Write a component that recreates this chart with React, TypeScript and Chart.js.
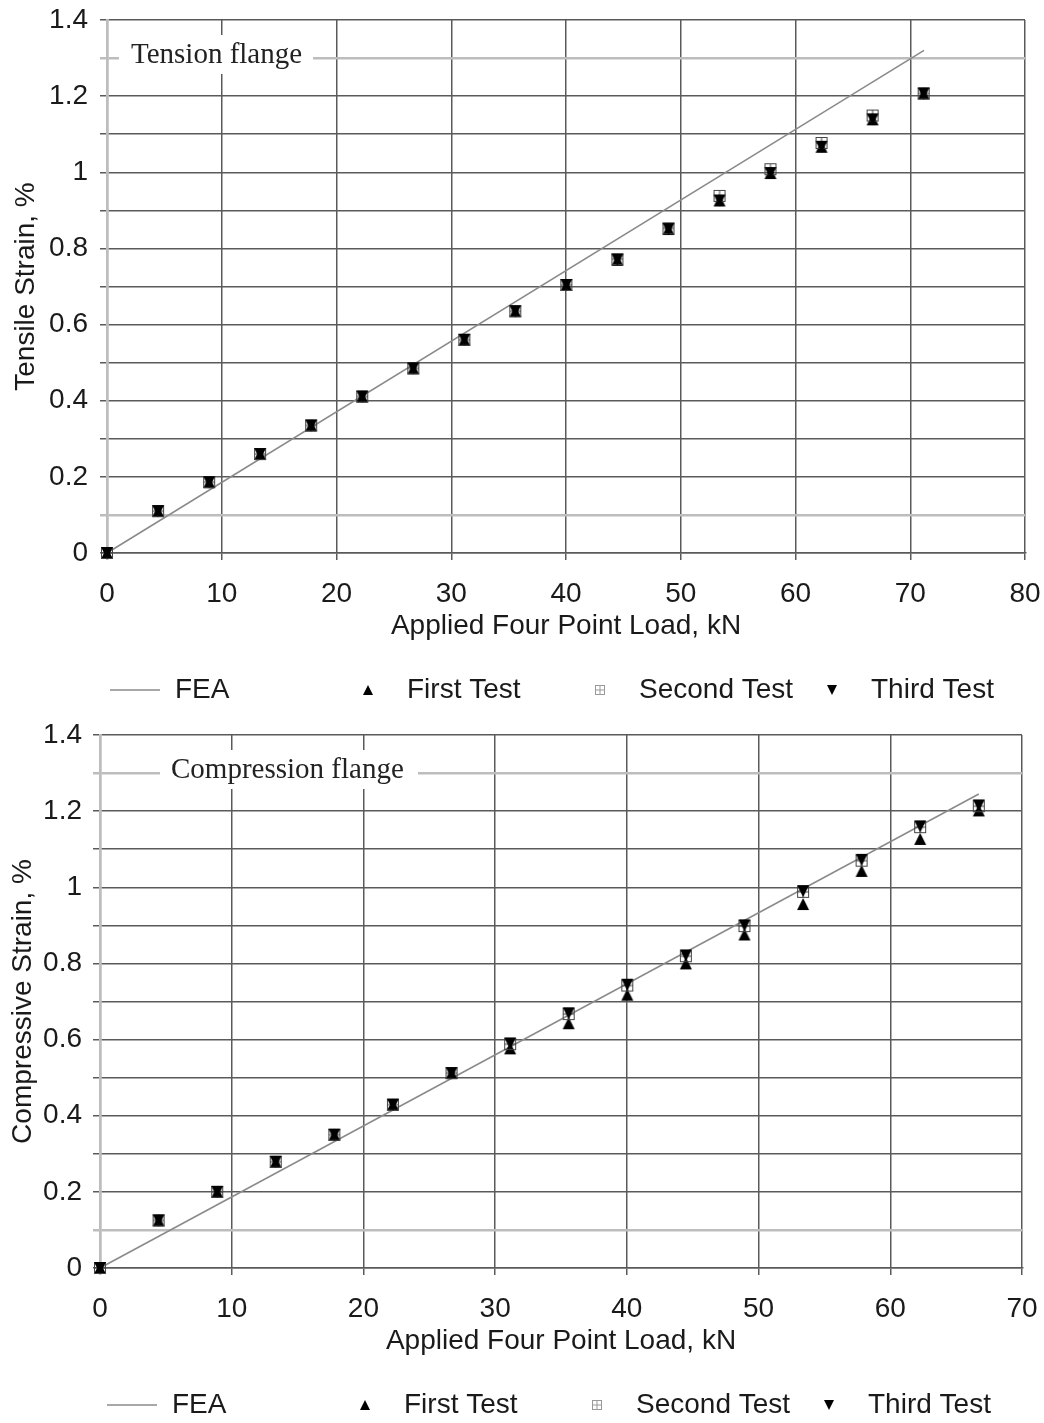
import React, { useEffect, useRef } from 'react';
import { Chart, registerables } from 'chart.js';

Chart.register(...registerables);

// ---------------- DATA ----------------
// Applied four point load, kN (1 kip steps)
const tensionLoadKN = [0, 4.45, 8.9, 13.34, 17.79, 22.24, 26.69, 31.14, 35.58, 40.03, 44.48, 48.93, 53.38, 57.82, 62.27, 66.72, 71.17];
const tensionFirstTest = [0, 0.11, 0.186, 0.26, 0.335, 0.411, 0.485, 0.56, 0.635, 0.704, 0.77, 0.851, 0.926, 0.998, 1.067, 1.139, 1.207];
const tensionSecondTest = [0, 0.11, 0.186, 0.26, 0.335, 0.411, 0.485, 0.56, 0.635, 0.704, 0.772, 0.853, 0.938, 1.008, 1.077, 1.149, 1.207];
const tensionThirdTest = [0, 0.11, 0.186, 0.26, 0.335, 0.411, 0.485, 0.56, 0.635, 0.704, 0.77, 0.851, 0.926, 0.998, 1.067, 1.139, 1.207];
const tensionFeaLoadKN = [0, 71.2];
const tensionFeaStrain = [0, 1.32];

const compressionLoadKN = [0, 4.45, 8.9, 13.34, 17.79, 22.24, 26.69, 31.14, 35.58, 40.03, 44.48, 48.93, 53.38, 57.82, 62.27, 66.72];
const compressionFirstTest = [0, 0.125, 0.2, 0.279, 0.35, 0.429, 0.512, 0.577, 0.643, 0.718, 0.8, 0.876, 0.956, 1.043, 1.127, 1.202];
const compressionSecondTest = [0, 0.125, 0.2, 0.279, 0.35, 0.429, 0.512, 0.588, 0.667, 0.742, 0.819, 0.898, 0.988, 1.07, 1.158, 1.213];
const compressionThirdTest = [0, 0.125, 0.2, 0.279, 0.35, 0.429, 0.512, 0.59, 0.669, 0.744, 0.821, 0.9, 0.99, 1.072, 1.16, 1.215];
const compressionFeaLoadKN = [0, 66.72];
const compressionFeaStrain = [0, 1.245];

const seriesNames = ['FEA', 'First Test', 'Second Test', 'Third Test'];
const xAxisTitle = 'Applied Four Point Load, kN';

// ---------------- STYLE ----------------
const SANS = '"Liberation Sans", Arial, sans-serif';
const SERIF = '"Liberation Serif", "Times New Roman", serif';
const TEXT = '#1a1a1a';
const GRID = '#5a5a5a';
const GRID_LIGHT = '#bdbdbd';
const FEA_COLOR = '#8a8a8a';

function makeMarker(kind: 'up' | 'down' | 'box', s: number, boxColor = '#555'): HTMLCanvasElement {
  const pad = 1;
  const c = document.createElement('canvas');
  c.width = s + 2 * pad;
  c.height = s + 2 * pad;
  const g = c.getContext('2d')!;
  if (kind === 'box') {
    g.strokeStyle = boxColor;
    g.lineWidth = 1;
    g.strokeRect(pad + 0.5, pad + 0.5, s - 1, s - 1);
    g.beginPath();
    g.moveTo(pad + s / 2, pad);
    g.lineTo(pad + s / 2, pad + s);
    g.moveTo(pad, pad + s / 2);
    g.lineTo(pad + s, pad + s / 2);
    g.stroke();
  } else {
    g.fillStyle = '#000';
    g.beginPath();
    if (kind === 'up') {
      g.moveTo(pad + s / 2, pad);
      g.lineTo(pad + s, pad + s);
      g.lineTo(pad, pad + s);
    } else {
      g.moveTo(pad, pad);
      g.lineTo(pad + s, pad);
      g.lineTo(pad + s / 2, pad + s);
    }
    g.closePath();
    g.fill();
  }
  return c;
}

const pts = (xs: number[], ys: number[]) => xs.map((x, i) => ({ x, y: ys[i] }));

type Cfg = {
  height: number;
  yWidth: number;
  rightPad: number;
  xMax: number;
  yTitle: string;
  yTitlePad: number;
  yTickPad: number;
  loads: number[];
  first: number[];
  second: number[];
  third: number[];
  feaX: number[];
  feaY: number[];
  label: string;
  labelBox: [number, number];
  labelX: number;
  legendLine: [number, number];
  legendMarkers: [number, number, number];
};

function StrainChart({ cfg, top }: { cfg: Cfg; top: number }) {
  const ref = useRef<HTMLCanvasElement>(null);
  useEffect(() => {
    const canvas = ref.current!;
    const up = makeMarker('up', 12);
    const down = makeMarker('down', 12);
    const box = makeMarker('box', 12, '#444');
    const legUp = makeMarker('up', 10);
    const legDown = makeMarker('down', 10);
    const legBox = makeMarker('box', 10, '#999');

    const labelPlugin = {
      id: 'flangeLabel',
      beforeDatasetsDraw(chart: any) {
        const ctx = chart.ctx;
        ctx.save();
        ctx.fillStyle = '#ffffff';
        ctx.fillRect(cfg.labelBox[0], 35, cfg.labelBox[1] - cfg.labelBox[0], 39);
        ctx.font = `29px ${SERIF}`;
        ctx.fillStyle = '#222';
        ctx.textBaseline = 'middle';
        ctx.textAlign = 'left';
        ctx.fillText(cfg.label, cfg.labelX, 55);
        ctx.restore();
      },
    };

    const legendPlugin = {
      id: 'rowLegend',
      afterDraw(chart: any) {
        const ctx = chart.ctx;
        const y = 690;
        ctx.save();
        ctx.strokeStyle = '#a8a8a8';
        ctx.lineWidth = 2;
        ctx.beginPath();
        ctx.moveTo(cfg.legendLine[0], y);
        ctx.lineTo(cfg.legendLine[1], y);
        ctx.stroke();
        ctx.font = `28px ${SANS}`;
        ctx.fillStyle = TEXT;
        ctx.textBaseline = 'middle';
        ctx.textAlign = 'left';
        ctx.fillText(seriesNames[0], cfg.legendLine[1] + 15, y);
        const imgs = [legUp, legBox, legDown];
        cfg.legendMarkers.forEach((mx, i) => {
          const im = imgs[i];
          ctx.drawImage(im, Math.round(mx - im.width / 2), Math.round(y - im.height / 2));
          ctx.fillText(seriesNames[i + 1], mx + 39, y);
        });
        ctx.restore();
      },
    };

    const isLight = (v: number) => Math.abs(v - 0.1) < 1e-6 || Math.abs(v - 1.3) < 1e-6;

    const chart = new Chart(canvas, {
      type: 'scatter',
      data: {
        datasets: [
          {
            label: seriesNames[0],
            data: pts(cfg.feaX, cfg.feaY),
            showLine: true,
            borderColor: FEA_COLOR,
            borderWidth: 1.5,
            pointRadius: 0,
            pointHoverRadius: 0,
            order: 3,
            clip: false,
          },
          {
            label: seriesNames[1],
            data: pts(cfg.loads, cfg.first),
            pointStyle: up,
            pointRadius: 6,
            order: 2,
            clip: false,
          },
          {
            label: seriesNames[2],
            data: pts(cfg.loads, cfg.second),
            pointStyle: box,
            pointRadius: 6,
            order: 1,
            clip: false,
          },
          {
            label: seriesNames[3],
            data: pts(cfg.loads, cfg.third),
            pointStyle: down,
            pointRadius: 6,
            order: 0,
            clip: false,
          },
        ] as any,
      },
      options: {
        animation: false,
        responsive: false,
        devicePixelRatio: 1,
        events: [],
        layout: { autoPadding: false, padding: { left: 0, right: cfg.rightPad, top: 20, bottom: cfg.height - 553 - 100 } },
        plugins: { legend: { display: false }, tooltip: { enabled: false } },
        scales: {
          x: {
            type: 'linear',
            min: 0,
            max: cfg.xMax,
            afterFit: (s: any) => {
              s.height = 100;
              s.paddingLeft = 0;
              s.paddingRight = 0;
            },
            ticks: {
              stepSize: 10,
              autoSkip: false,
              maxRotation: 0,
              padding: 17,
              color: TEXT,
              font: { family: SANS, size: 28 },
              callback: (v: any) => String(v),
            },
            grid: {
              color: (c: any) => (c.tick && c.tick.value === 0 ? GRID_LIGHT : GRID),
              lineWidth: (c: any) => (c.tick && c.tick.value === 0 ? 2.5 : 1.5),
              tickLength: 7,
            },
            border: { color: GRID, width: 1.5 },
            title: {
              display: true,
              text: xAxisTitle,
              color: TEXT,
              font: { family: SANS, size: 28 },
              padding: { top: 0, bottom: 10 },
            },
          },
          y: {
            type: 'linear',
            min: 0,
            max: 1.4,
            afterFit: (s: any) => {
              s.width = cfg.yWidth;
              s.paddingTop = 0;
              s.paddingBottom = 0;
            },
            ticks: {
              stepSize: 0.1,
              autoSkip: false,
              padding: cfg.yTickPad,
              color: TEXT,
              font: { family: SANS, size: 28 },
              callback: (v: any) => {
                const t = Math.round(Number(v) * 10);
                return t % 2 === 0 ? String(t / 10) : '';
              },
            },
            grid: {
              color: (c: any) => (c.tick && isLight(c.tick.value) ? GRID_LIGHT : GRID),
              lineWidth: (c: any) => (c.tick && isLight(c.tick.value) ? 2.5 : 1.5),
              tickLength: 7,
            },
            border: { color: GRID_LIGHT, width: 2.5 },
            title: {
              display: true,
              text: cfg.yTitle,
              color: TEXT,
              font: { family: SANS, size: 28 },
              padding: { top: cfg.yTitlePad, bottom: 0 },
            },
          },
        },
      } as any,
      plugins: [labelPlugin, legendPlugin],
    });
    return () => chart.destroy();
  }, [cfg]);

  return (
    <canvas
      ref={ref}
      width={1044}
      height={cfg.height}
      style={{ position: 'absolute', left: 0, top, width: 1044, height: cfg.height, display: 'block' }}
    />
  );
}

const tensionCfg: Cfg = {
  height: 715,
  yWidth: 107,
  rightPad: 19,
  xMax: 80,
  yTitle: 'Tensile Strain, %',
  yTitlePad: 9,
  yTickPad: 12,
  loads: tensionLoadKN,
  first: tensionFirstTest,
  second: tensionSecondTest,
  third: tensionThirdTest,
  feaX: tensionFeaLoadKN,
  feaY: tensionFeaStrain,
  label: 'Tension flange',
  labelBox: [119, 313],
  labelX: 131,
  legendLine: [110, 160],
  legendMarkers: [368, 600, 832],
};

const compressionCfg: Cfg = {
  height: 708,
  yWidth: 100,
  rightPad: 22,
  xMax: 70,
  yTitle: 'Compressive Strain, %',
  yTitlePad: 6,
  yTickPad: 11,
  loads: compressionLoadKN,
  first: compressionFirstTest,
  second: compressionSecondTest,
  third: compressionThirdTest,
  feaX: compressionFeaLoadKN,
  feaY: compressionFeaStrain,
  label: 'Compression flange',
  labelBox: [160, 418],
  labelX: 171,
  legendLine: [107, 157],
  legendMarkers: [365, 597, 829],
};

export default function App() {
  return (
    <div style={{ position: 'absolute', left: 0, top: 0, width: 1044, height: 1423, background: '#fff', overflow: 'hidden' }}>
      <StrainChart cfg={tensionCfg} top={0} />
      <StrainChart cfg={compressionCfg} top={715} />
    </div>
  );
}
